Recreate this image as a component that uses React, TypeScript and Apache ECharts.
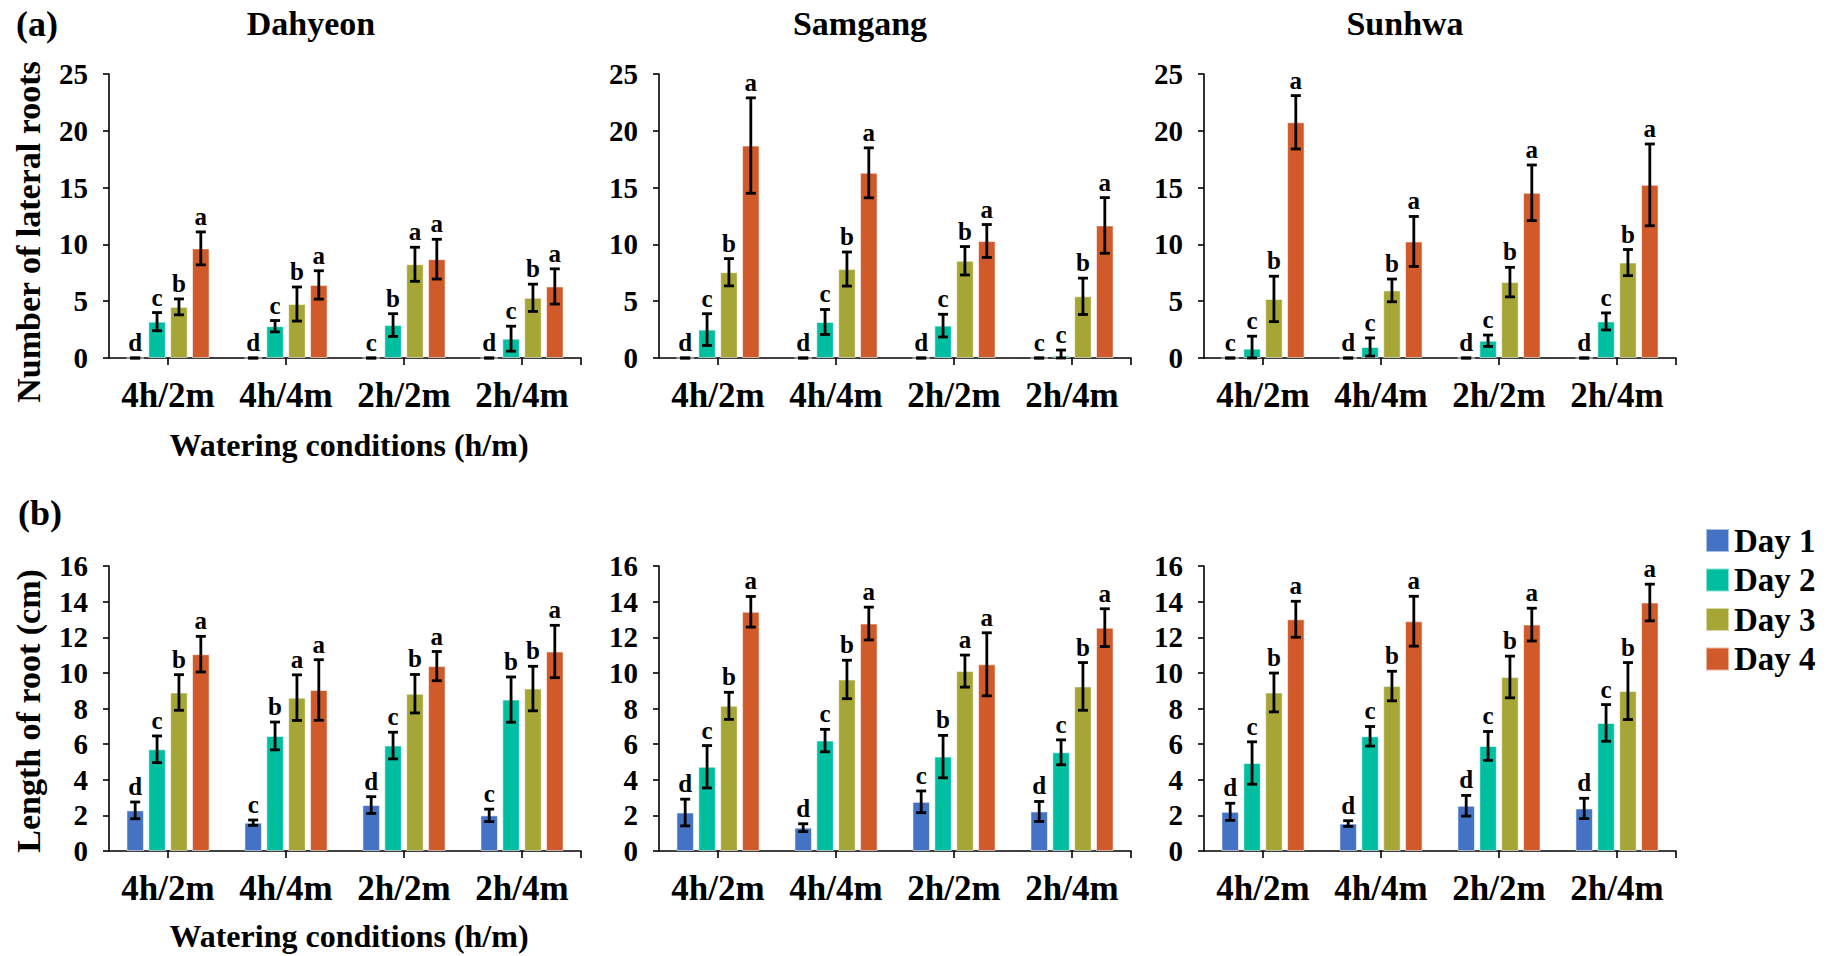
import React, { useEffect, useRef } from "react";
import * as echarts from "echarts";

// ---------- categories / labels ----------
const CATEGORIES = ["4h/2m", "4h/4m", "2h/2m", "2h/4m"];
const CULTIVARS = ["Dahyeon", "Samgang", "Sunhwa"];
const DAYS = ["Day 1", "Day 2", "Day 3", "Day 4"];
const DAY_COLORS = ["#4472C4", "#00BFA0", "#A6A637", "#D05A2A"];
const Y_TICKS_A = [0, 25, 5];
const Y_TICKS_B = [0, 16, 2];

// ---------- (a) Number of lateral roots (rows: Day 1..4, cols: categories) ----------
const LAT_DAHYEON_MEAN = [
  [0, 0, 0, 0],
  [3.2, 2.8, 2.9, 1.7],
  [4.5, 4.75, 8.25, 5.3],
  [9.65, 6.43, 8.7, 6.3],
];
const LAT_DAHYEON_SE = [
  [0, 0, 0, 0],
  [0.8, 0.5, 1.0, 1.1],
  [0.7, 1.5, 1.5, 1.2],
  [1.45, 1.25, 1.75, 1.55],
];
const LAT_DAHYEON_LETTERS = [
  ["d", "d", "c", "d"],
  ["c", "c", "b", "c"],
  ["b", "b", "a", "b"],
  ["a", "a", "a", "a"],
];

const LAT_SAMGANG_MEAN = [
  [0, 0, 0, 0],
  [2.5, 3.17, 2.85, 0.2],
  [7.55, 7.83, 8.56, 5.43],
  [18.7, 16.3, 10.3, 11.67],
];
const LAT_SAMGANG_SE = [
  [0, 0, 0, 0],
  [1.4, 1.1, 1.0, 0.5],
  [1.2, 1.5, 1.25, 1.6],
  [4.2, 2.2, 1.45, 2.45],
];
const LAT_SAMGANG_LETTERS = [
  ["d", "d", "d", "c"],
  ["c", "c", "c", "c"],
  ["b", "b", "b", "b"],
  ["a", "a", "a", "a"],
];

const LAT_SUNHWA_MEAN = [
  [0, 0, 0, 0],
  [0.82, 0.97, 1.52, 3.22],
  [5.2, 5.95, 6.68, 8.4],
  [20.75, 10.26, 14.54, 15.24],
];
const LAT_SUNHWA_SE = [
  [0, 0, 0, 0],
  [1.1, 0.8, 0.5, 0.75],
  [2.0, 1.0, 1.3, 1.15],
  [2.35, 2.2, 2.45, 3.6],
];
const LAT_SUNHWA_LETTERS = [
  ["c", "d", "d", "d"],
  ["c", "c", "c", "c"],
  ["b", "b", "b", "b"],
  ["a", "a", "a", "a"],
];

// ---------- (b) Length of root (cm) ----------
const LEN_DAHYEON_MEAN = [
  [2.28, 1.59, 2.58, 2.0],
  [5.71, 6.46, 5.92, 8.5],
  [8.9, 8.61, 8.83, 9.12],
  [11.05, 9.04, 10.38, 11.2],
];
const LEN_DAHYEON_SE = [
  [0.47, 0.15, 0.47, 0.35],
  [0.75, 0.78, 0.75, 1.27],
  [1.0, 1.28, 1.08, 1.25],
  [1.0, 1.7, 0.82, 1.47],
];
const LEN_DAHYEON_LETTERS = [
  ["d", "c", "d", "c"],
  ["c", "b", "c", "b"],
  ["b", "a", "b", "b"],
  ["a", "a", "a", "a"],
];

const LEN_SAMGANG_MEAN = [
  [2.16, 1.31, 2.76, 2.22],
  [4.73, 6.2, 5.3, 5.54],
  [8.15, 9.63, 10.1, 9.24],
  [13.43, 12.77, 10.48, 12.54],
];
const LEN_SAMGANG_SE = [
  [0.75, 0.22, 0.61, 0.56],
  [1.19, 0.63, 1.19, 0.7],
  [0.76, 1.08, 0.9, 1.34],
  [0.86, 0.92, 1.77, 1.06],
];
const LEN_SAMGANG_LETTERS = [
  ["d", "d", "c", "d"],
  ["c", "c", "b", "c"],
  ["b", "b", "a", "b"],
  ["a", "a", "a", "a"],
];

const LEN_SUNHWA_MEAN = [
  [2.2, 1.54, 2.54, 2.39],
  [4.94, 6.44, 5.9, 7.19],
  [8.9, 9.26, 9.77, 8.98],
  [13.01, 12.9, 12.71, 13.95],
];
const LEN_SUNHWA_SE = [
  [0.48, 0.16, 0.58, 0.57],
  [1.19, 0.55, 0.81, 1.03],
  [1.09, 0.83, 1.17, 1.6],
  [1.01, 1.4, 0.92, 1.03],
];
const LEN_SUNHWA_LETTERS = [
  ["d", "d", "d", "d"],
  ["c", "c", "c", "c"],
  ["b", "b", "b", "b"],
  ["a", "a", "a", "a"],
];

// ---------- layout ----------
const FONT = '"Liberation Serif", "Times New Roman", serif';
const GRID_LEFTS = [109, 659, 1204];
const GRID_WIDTH = 472;
const ROW_TOPS = [74, 566];
const ROW_HEIGHTS = [284, 285];
const BAR_WIDTH = 17.5;
const BAR_GAP = 0.25;
const BAR_STEP = BAR_WIDTH * (1 + BAR_GAP);

const PANELS = [
  { row: 0, mean: LAT_DAHYEON_MEAN, se: LAT_DAHYEON_SE, letters: LAT_DAHYEON_LETTERS, ticks: Y_TICKS_A },
  { row: 0, mean: LAT_SAMGANG_MEAN, se: LAT_SAMGANG_SE, letters: LAT_SAMGANG_LETTERS, ticks: Y_TICKS_A },
  { row: 0, mean: LAT_SUNHWA_MEAN, se: LAT_SUNHWA_SE, letters: LAT_SUNHWA_LETTERS, ticks: Y_TICKS_A },
  { row: 1, mean: LEN_DAHYEON_MEAN, se: LEN_DAHYEON_SE, letters: LEN_DAHYEON_LETTERS, ticks: Y_TICKS_B },
  { row: 1, mean: LEN_SAMGANG_MEAN, se: LEN_SAMGANG_SE, letters: LEN_SAMGANG_LETTERS, ticks: Y_TICKS_B },
  { row: 1, mean: LEN_SUNHWA_MEAN, se: LEN_SUNHWA_SE, letters: LEN_SUNHWA_LETTERS, ticks: Y_TICKS_B },
];

function buildOption() {
  const grid: any[] = [];
  const xAxis: any[] = [];
  const yAxis: any[] = [];
  const series: any[] = [];
  const axisLineStyle = { color: "#000", width: 1.6 };

  PANELS.forEach((p, i) => {
    const col = i % 3;
    grid.push({
      left: GRID_LEFTS[col],
      top: ROW_TOPS[p.row],
      width: GRID_WIDTH,
      height: ROW_HEIGHTS[p.row],
      containLabel: false,
      outerBoundsMode: "none",
    });
    xAxis.push({
      type: "category",
      gridIndex: i,
      data: CATEGORIES,
      boundaryGap: true,
      axisLine: { show: true, lineStyle: axisLineStyle },
      axisTick: { show: true, alignWithLabel: true, interval: 0, length: 7, lineStyle: axisLineStyle },
      axisLabel: {
        interval: 0,
        hideOverlap: false,
        color: "#000",
        fontFamily: FONT,
        fontWeight: "bold",
        fontSize: 35,
        margin: 20,
      },
      splitLine: { show: false },
    });
    xAxis.push({
      type: "value",
      gridIndex: i,
      position: "bottom",
      min: 0,
      max: 1,
      interval: 1,
      axisLine: { show: false },
      axisLabel: { show: false },
      splitLine: { show: false },
      axisTick: { show: true, length: 7, lineStyle: axisLineStyle, customValues: [1] },
    });
    yAxis.push({
      type: "value",
      gridIndex: i,
      min: p.ticks[0],
      max: p.ticks[1],
      interval: p.ticks[2],
      axisLine: { show: true, lineStyle: axisLineStyle },
      axisTick: { show: true, length: 6, lineStyle: axisLineStyle },
      splitLine: { show: false },
      axisLabel: {
        color: "#000",
        fontFamily: FONT,
        fontWeight: "bold",
        fontSize: 29,
        margin: 21,
      },
    });

    DAYS.forEach((d, k) => {
      series.push({
        type: "bar",
        name: d,
        xAxisIndex: 2 * i,
        yAxisIndex: i,
        data: p.mean[k],
        barWidth: BAR_WIDTH,
        barGap: BAR_GAP * 100 + "%",
        itemStyle: {
          color: DAY_COLORS[k],
          borderColor: "rgba(255,255,255,0.55)",
          borderWidth: 1,
        },
        z: 2,
      });
    });

    const errData: number[][] = [];
    const errLetters: string[] = [];
    for (let k = 0; k < 4; k++) {
      for (let c = 0; c < CATEGORIES.length; c++) {
        errData.push([c, k, p.mean[k][c], p.se[k][c]]);
        errLetters.push(p.letters[k][c]);
      }
    }
    series.push({
      type: "custom",
      name: "err" + i,
      xAxisIndex: 2 * i,
      yAxisIndex: i,
      data: errData,
      encode: { x: 0, y: 2 },
      z: 5,
      renderItem: (params: any, api: any) => {
        const c = api.value(0);
        const k = api.value(1);
        const v = api.value(2);
        const e = api.value(3);
        const base = api.coord([c, v]);
        const x = base[0] + (k - 1.5) * BAR_STEP;
        const top = api.coord([c, v + e])[1];
        const bot = api.coord([c, Math.max(0, v - e)])[1];
        const capHalf = 5;
        const ls = { stroke: "#000", lineWidth: 2.8 };
        return {
          type: "group",
          children: [
            { type: "line", shape: { x1: x, y1: top, x2: x, y2: bot }, style: ls },
            { type: "line", shape: { x1: x - capHalf, y1: top, x2: x + capHalf, y2: top }, style: ls },
            { type: "line", shape: { x1: x - capHalf, y1: bot, x2: x + capHalf, y2: bot }, style: ls },
            {
              type: "text",
              style: {
                text: errLetters[params.dataIndex],
                x: x,
                y: top - 3,
                fill: "#000",
                fontFamily: FONT,
                fontWeight: "bold",
                fontSize: 25,
                align: "center",
                verticalAlign: "bottom",
              },
            },
          ],
        };
      },
    });
  });

  const textStyle = (size: number) => ({
    fill: "#000",
    fontFamily: FONT,
    fontWeight: "bold",
    fontSize: size,
  });

  const graphic: any[] = [
    { type: "text", x: 16, y: 24, style: { ...textStyle(36), text: "(a)", align: "left", verticalAlign: "middle" } },
    { type: "text", x: 18, y: 513, style: { ...textStyle(36), text: "(b)", align: "left", verticalAlign: "middle" } },
    { type: "text", x: 311, y: 23, style: { ...textStyle(34), text: CULTIVARS[0], align: "center", verticalAlign: "middle" } },
    { type: "text", x: 860, y: 23, style: { ...textStyle(34), text: CULTIVARS[1], align: "center", verticalAlign: "middle" } },
    { type: "text", x: 1405, y: 23, style: { ...textStyle(34), text: CULTIVARS[2], align: "center", verticalAlign: "middle" } },
    {
      type: "text",
      x: 28,
      y: 232,
      rotation: Math.PI / 2,
      style: { ...textStyle(34), text: "Number of lateral roots", align: "center", verticalAlign: "middle" },
    },
    {
      type: "text",
      x: 28,
      y: 711,
      rotation: Math.PI / 2,
      style: { ...textStyle(34), text: "Length of root (cm)", align: "center", verticalAlign: "middle" },
    },
    { type: "text", x: 349, y: 445, style: { ...textStyle(32), text: "Watering conditions (h/m)", align: "center", verticalAlign: "middle" } },
    { type: "text", x: 349, y: 936, style: { ...textStyle(32), text: "Watering conditions (h/m)", align: "center", verticalAlign: "middle" } },
  ];

  return {
    animation: false,
    backgroundColor: "#ffffff",
    grid,
    xAxis,
    yAxis,
    series,
    legend: {
      data: DAYS,
      orient: "vertical",
      left: 1700,
      top: 519,
      icon: "rect",
      itemWidth: 23,
      itemHeight: 23,
      itemGap: 6.5,
      selectedMode: false,
      textStyle: { color: "#000", fontFamily: FONT, fontWeight: "bold", fontSize: 33 },
    },
    graphic,
  };
}

export default function App() {
  const ref = useRef<HTMLDivElement>(null);
  useEffect(() => {
    document.body.style.margin = "0";
    if (!ref.current) return;
    const chart = echarts.init(ref.current, null, { renderer: "svg" });
    chart.setOption(buildOption() as any);
    return () => chart.dispose();
  }, []);
  return (
    <div
      ref={ref}
      style={{ position: "absolute", left: 0, top: 0, width: 1827, height: 956, background: "#fff" }}
    />
  );
}
